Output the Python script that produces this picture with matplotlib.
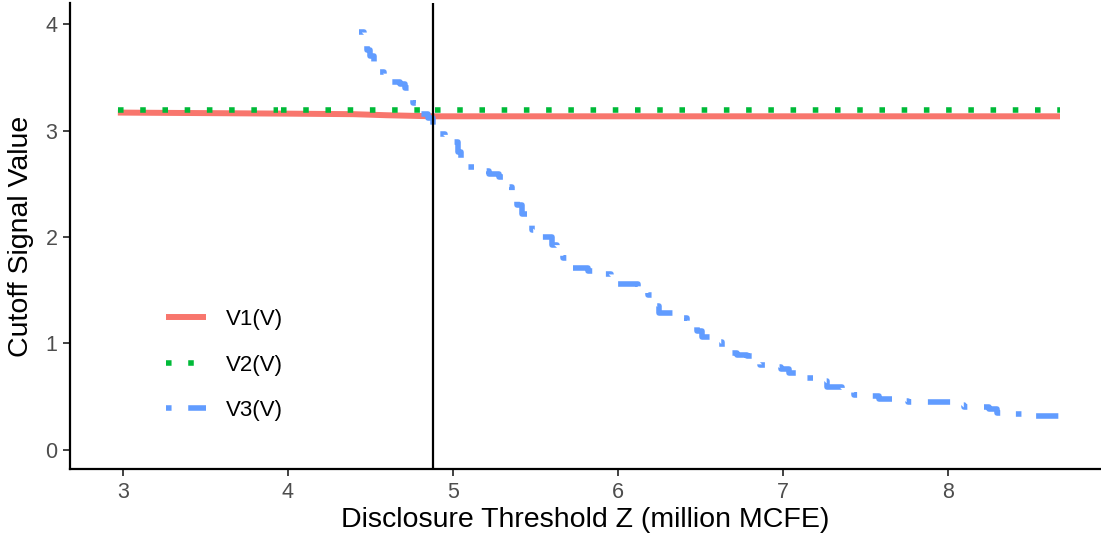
import matplotlib
matplotlib.use("Agg")

import matplotlib.pyplot as plt
from matplotlib.lines import Line2D

plt.rcParams["font.family"] = ["Liberation Sans", "DejaVu Sans"]

# =========================
# data
# =========================
v1_x = [2.97, 3.5, 4.0, 4.4, 4.6, 4.88, 8.68]
v1_y = [3.17, 3.165, 3.16, 3.155, 3.145, 3.135, 3.135]

# V2 is flat; drawn in three pieces like the original
v2_pieces = [(2.97, 3.94), (3.96, 4.87), (4.89, 8.68)]
v2_level = 3.19

v3_x = [4.43, 4.46, 4.48, 4.50, 4.52, 4.55, 4.58, 4.62, 4.68, 4.71,
        4.74, 4.76, 4.79, 4.85, 4.88, 4.95, 5.00, 5.03, 5.05, 5.14,
        5.22, 5.28, 5.32, 5.34, 5.36, 5.39, 5.42, 5.45, 5.48, 5.50,
        5.60, 5.63, 5.67, 5.70, 5.82, 5.89, 5.96, 6.12, 6.18, 6.22,
        6.25, 6.36, 6.42, 6.48, 6.51, 6.58, 6.63, 6.66, 6.72, 6.78,
        6.83, 6.86, 6.95, 6.99, 7.04, 7.08, 7.18, 7.27, 7.36, 7.40,
        7.43, 7.50, 7.58, 7.70, 7.76, 8.05, 8.10, 8.25, 8.30, 8.40,
        8.50, 8.68]
v3_y = [3.93, 3.85, 3.76, 3.70, 3.62, 3.55, 3.49, 3.46, 3.44, 3.40,
        3.34, 3.26, 3.16, 3.12, 2.97, 2.93, 2.89, 2.80, 2.66, 2.62,
        2.59, 2.56, 2.53, 2.47, 2.40, 2.30, 2.22, 2.14, 2.07, 2.00,
        1.93, 1.89, 1.80, 1.71, 1.68, 1.65, 1.56, 1.50, 1.46, 1.35,
        1.29, 1.24, 1.19, 1.12, 1.06, 1.01, 0.95, 0.91, 0.89, 0.88,
        0.84, 0.80, 0.78, 0.76, 0.72, 0.68, 0.65, 0.59, 0.57, 0.55,
        0.52, 0.51, 0.48, 0.46, 0.45, 0.42, 0.40, 0.38, 0.35, 0.34,
        0.32, 0.32]

z_cut = 4.88

x_ticks = [3, 4, 5, 6, 7, 8]
y_ticks = [0, 1, 2, 3, 4]

RED = "#F8766D"
GREEN = "#00BA38"
BLUE = "#619CFF"

# =========================
# figure
# =========================
fig = plt.figure(figsize=(11.01, 5.44), dpi=100)
ax = fig.add_axes([70 / 1101, 1 - 469 / 544, 1 - 70 / 1101, (469 - 3) / 544])

lw = 4.0
ax.plot(v1_x, v1_y, color=RED, lw=4.3, solid_capstyle="butt")
for x0, x1 in v2_pieces:
    ax.plot([x0, x1], [v2_level, v2_level], color=GREEN, lw=lw,
            dashes=(1, 3), dash_capstyle="butt")
ax.plot(v3_x, v3_y, color=BLUE, lw=lw, drawstyle="steps-post",
        dashes=(1, 3, 4, 3), dash_capstyle="butt")

ax.axvline(z_cut, color="black", lw=1.6)

ax.set_xlim(2.68, 2.68 + 1031 / 165)
ax.set_ylim(-0.18, 4.2)
ax.set_xticks(x_ticks)
ax.set_yticks(y_ticks)

for side in ["top", "right"]:
    ax.spines[side].set_visible(False)
for side in ["left", "bottom"]:
    ax.spines[side].set_linewidth(1.6)
ax.tick_params(axis="both", length=5, width=1.3, color="#333333",
               labelsize=15.5, labelcolor="#4D4D4D", pad=4)

ax.set_xlabel("Disclosure Threshold Z (million MCFE)", fontsize=20.5, labelpad=3)
ax.set_ylabel("Cutoff Signal Value", fontsize=20.5, labelpad=8)

handles = [
    Line2D([], [], color=RED, lw=4.3, solid_capstyle="butt"),
    Line2D([], [], color=GREEN, lw=lw, dashes=(1, 3), dash_capstyle="butt"),
    Line2D([], [], color=BLUE, lw=lw, dashes=(1, 3, 4, 3), dash_capstyle="butt"),
]
ax.legend(handles, ["V1(V)", "V2(V)", "V3(V)"], loc="lower left",
          bbox_to_anchor=(0.074, 0.06), frameon=False, fontsize=16,
          handlelength=1.8, handletextpad=0.9, labelspacing=1.1)

fig.savefig("out.png", dpi=100, facecolor="white")
